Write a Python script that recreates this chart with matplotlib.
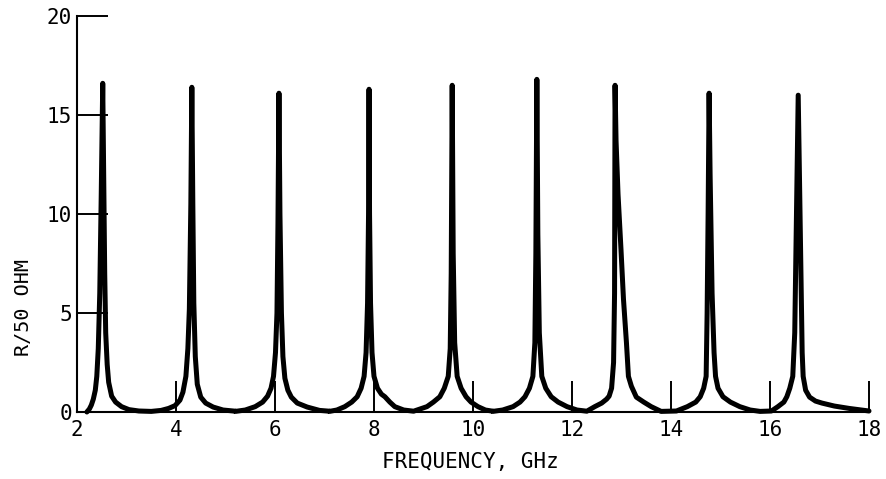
import numpy as np
import matplotlib.pyplot as plt

# resonance trace, one list pair per peak
p1_f = [2.20, 2.25, 2.29, 2.33, 2.37, 2.40, 2.43, 2.46, 2.49, 2.52, 2.54, 2.56, 2.58, 2.61, 2.64, 2.70, 2.78, 2.90, 3.05, 3.25, 3.50]
p1_r = [0.0, 0.15, 0.35, 0.65, 1.1, 1.8, 3.2, 6.0, 11.0, 16.6, 12.0, 7.0, 4.0, 2.4, 1.5, 0.8, 0.5, 0.27, 0.12, 0.05, 0.03]

p2_f = [3.50, 3.70, 3.85, 3.98, 4.08, 4.14, 4.20, 4.24, 4.27, 4.30, 4.32, 4.34, 4.36, 4.39, 4.43, 4.50, 4.60, 4.75, 4.95, 5.20]
p2_r = [0.03, 0.08, 0.18, 0.32, 0.6, 1.0, 1.8, 3.2, 5.2, 10.5, 16.4, 10.5, 5.5, 2.8, 1.4, 0.75, 0.45, 0.25, 0.10, 0.04]

p3_f = [5.20, 5.40, 5.60, 5.75, 5.85, 5.92, 5.97, 6.01, 6.04, 6.06, 6.08, 6.10, 6.13, 6.16, 6.20, 6.26, 6.33, 6.45, 6.65, 6.90, 7.10]
p3_r = [0.03, 0.1, 0.27, 0.5, 0.8, 1.2, 1.8, 3.0, 5.0, 9.5, 16.1, 10.0, 5.0, 2.8, 1.7, 1.1, 0.75, 0.45, 0.25, 0.08, 0.04]

p4_f = [7.10, 7.25, 7.41, 7.55, 7.66, 7.74, 7.80, 7.84, 7.87, 7.89, 7.90, 7.91, 7.93, 7.96, 8.00, 8.07, 8.15, 8.22, 8.32, 8.42, 8.60, 8.80]
p4_r = [0.03, 0.1, 0.27, 0.5, 0.77, 1.2, 1.8, 3.0, 5.5, 10.0, 16.3, 10.0, 5.5, 3.0, 1.8, 1.2, 0.9, 0.77, 0.5, 0.27, 0.1, 0.04]

p5_f = [8.80, 9.07, 9.20, 9.33, 9.42, 9.50, 9.54, 9.56, 9.58, 9.60, 9.63, 9.68, 9.76, 9.86, 9.96, 10.10, 10.25, 10.40]
p5_r = [0.04, 0.27, 0.5, 0.77, 1.2, 1.8, 3.2, 7.0, 16.5, 8.0, 3.5, 1.8, 1.2, 0.77, 0.5, 0.27, 0.1, 0.04]

p6_f = [10.40, 10.60, 10.81, 10.95, 11.05, 11.14, 11.21, 11.25, 11.27, 11.29, 11.31, 11.34, 11.39, 11.47, 11.58, 11.72, 11.90, 12.10, 12.30]
p6_r = [0.03, 0.1, 0.27, 0.5, 0.77, 1.2, 1.8, 3.5, 8.0, 16.8, 9.0, 4.0, 1.8, 1.2, 0.77, 0.5, 0.27, 0.1, 0.04]

p7_f = [12.30, 12.46, 12.60, 12.70, 12.75, 12.80, 12.84, 12.86, 12.87, 12.89, 12.93, 12.99, 13.04, 13.10, 13.14, 13.20, 13.30, 13.45, 13.60, 13.80]
p7_r = [0.04, 0.27, 0.45, 0.65, 0.8, 1.2, 2.5, 6.0, 16.5, 13.7, 11.0, 8.2, 5.7, 3.5, 1.8, 1.3, 0.75, 0.5, 0.27, 0.03]

p8_f = [13.80, 14.11, 14.33, 14.50, 14.59, 14.66, 14.71, 14.73, 14.75, 14.77, 14.79, 14.83, 14.87, 14.90, 14.95, 15.05, 15.20, 15.39, 15.60, 15.80]
p8_r = [0.03, 0.05, 0.27, 0.5, 0.77, 1.2, 1.8, 5.0, 10.0, 16.1, 12.0, 6.0, 3.0, 1.8, 1.2, 0.77, 0.5, 0.27, 0.1, 0.03]

p9_f = [15.80, 16.03, 16.16, 16.28, 16.34, 16.40, 16.46, 16.50, 16.53, 16.57, 16.60, 16.63, 16.65, 16.67, 16.72, 16.80, 16.92, 17.05, 17.30, 17.60, 18.00]
p9_r = [0.03, 0.05, 0.27, 0.5, 0.77, 1.2, 1.8, 4.0, 9.0, 16.0, 11.0, 6.0, 3.0, 1.8, 1.1, 0.75, 0.55, 0.45, 0.3, 0.18, 0.05]

x_ticks = [2, 4, 6, 8, 10, 12, 14, 16, 18]
y_ticks = [0, 5, 10, 15, 20]

freq = np.concatenate([p1_f, p2_f, p3_f, p4_f, p5_f, p6_f, p7_f, p8_f, p9_f])
resist = np.concatenate([p1_r, p2_r, p3_r, p4_r, p5_r, p6_r, p7_r, p8_r, p9_r])

plt.rcParams['font.family'] = ['DejaVu Sans Mono']

fig = plt.figure(figsize=(8.87, 4.79), dpi=100)
ax = fig.add_axes([0.0868, 0.1399, 0.8929, 0.8267])

ax.plot(freq, resist, color='black', lw=3.6, solid_joinstyle='round',
        solid_capstyle='round', clip_on=False)

ax.set_xlim(2, 18)
ax.set_ylim(0, 20)
ax.spines['top'].set_visible(False)
ax.spines['right'].set_visible(False)
ax.spines['left'].set_linewidth(1.5)
ax.spines['bottom'].set_linewidth(1.5)

ax.set_xticks(x_ticks)
ax.set_yticks(y_ticks)
ax.tick_params(axis='x', direction='in', length=22, width=1.4, pad=6, labelsize=15)
ax.tick_params(axis='y', direction='in', length=22, width=1.4, pad=3.5, labelsize=15)

ax.text(0.497, -0.126, "FREQUENCY, GHz", transform=ax.transAxes,
        ha='center', va='center', fontsize=15)
ax.text(-0.068, 0.263, "R/50 OHM", transform=ax.transAxes, rotation=90,
        ha='center', va='center', fontsize=14.5)

plt.savefig("out.png", dpi=100)
